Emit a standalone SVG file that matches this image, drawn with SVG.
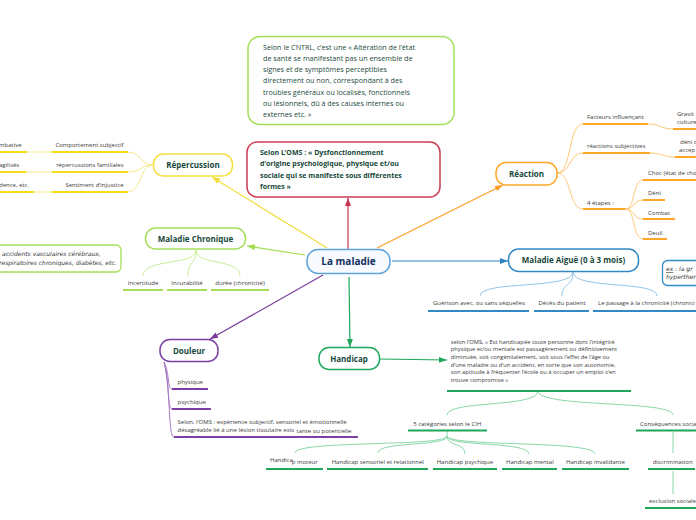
<svg xmlns="http://www.w3.org/2000/svg" width="696" height="520" viewBox="0 0 696 520">
<defs>
<style>
text{font-family:"Open Sans","Noto Sans","DejaVu Sans",sans-serif;}
.node{fill:#ffffff;stroke-width:1.5;}
.lbl{font-size:8px;font-weight:bold;fill:#17483a;text-anchor:middle;}
.t{font-size:6px;fill:#3a3a3a;}
.tc{font-size:6px;fill:#3a3a3a;text-anchor:middle;}
.te{font-size:6px;fill:#3a3a3a;text-anchor:end;}
.ul{fill:none;stroke-width:2;}
.cv{fill:none;stroke-width:1;}
.ln{fill:none;stroke-width:1.2;}
.it{font-family:"DejaVu Sans",sans-serif;font-size:6px;font-style:italic;fill:#333;}
</style>
<marker id="aR" markerUnits="userSpaceOnUse" markerWidth="8" markerHeight="8" refX="8" refY="4" orient="auto"><path d="M0,1 L8,4 L0,7 z" fill="#c8344f"/></marker>
<marker id="aY" markerUnits="userSpaceOnUse" markerWidth="8" markerHeight="8" refX="8" refY="4" orient="auto"><path d="M0,1 L8,4 L0,7 z" fill="#f2dc3a"/></marker>
<marker id="aO" markerUnits="userSpaceOnUse" markerWidth="8" markerHeight="8" refX="8" refY="4" orient="auto"><path d="M0,1 L8,4 L0,7 z" fill="#fb9f22"/></marker>
<marker id="aL" markerUnits="userSpaceOnUse" markerWidth="8" markerHeight="8" refX="8" refY="4" orient="auto"><path d="M0,1 L8,4 L0,7 z" fill="#9fdc4c"/></marker>
<marker id="aB" markerUnits="userSpaceOnUse" markerWidth="8" markerHeight="8" refX="8" refY="4" orient="auto"><path d="M0,1 L8,4 L0,7 z" fill="#2f84c0"/></marker>
<marker id="aP" markerUnits="userSpaceOnUse" markerWidth="8" markerHeight="8" refX="8" refY="4" orient="auto"><path d="M0,1 L8,4 L0,7 z" fill="#7a3c9e"/></marker>
<marker id="aG" markerUnits="userSpaceOnUse" markerWidth="8" markerHeight="8" refX="8" refY="4" orient="auto"><path d="M0,1 L8,4 L0,7 z" fill="#1ea65a"/></marker>
</defs>
<rect width="696" height="520" fill="#ffffff"/>

<g id="connectors">
<path class="ln" d="M348,249 L348,198" stroke="#c8344f" marker-end="url(#aR)"/>
<path class="ln" d="M327,248 L212,177" stroke="#f2dc3a" marker-end="url(#aY)"/>
<path class="ln" d="M377,248 L503,185" stroke="#fb9f22" marker-end="url(#aO)"/>
<path class="ln" d="M305,255 L247,246" stroke="#9fdc4c" marker-end="url(#aL)"/>
<path class="ln" d="M392,261 L508,261" stroke="#2f84c0" marker-end="url(#aB)"/>
<path class="ln" d="M323,275 L210,339" stroke="#7a3c9e" marker-end="url(#aP)"/>
<path class="ln" d="M349,277 L350,347" stroke="#1ea65a" marker-end="url(#aG)"/>
<path class="ln" d="M380,359 L447,360" stroke="#1ea65a" marker-end="url(#aG)"/>

<!-- Repercussion curves -->
<g stroke="#f7e98a" class="cv">
<path d="M153,165 C140,165 141,152 128,152"/>
<path d="M153,165 C140,165 141,172 128,172"/>
<path d="M153,165 C140,165 141,192 128,192"/>
<path d="M52,152 L27,152"/>
<path d="M52,172 L26,172"/>
<path d="M52,192 L34,192"/>
</g>
<!-- Maladie chronique curves -->
<g stroke="#c9ee96" class="cv">
<path d="M196,250 C196,266 143,258 143,276"/>
<path d="M196,250 C196,266 188,260 188,276"/>
<path d="M196,250 C196,266 240,258 240,276"/>
</g>
<!-- Reaction curves -->
<g stroke="#ffc878" class="cv">
<path d="M557,173 C572,173 568,124 583,124"/>
<path d="M557,173 C572,173 568,153 583,153"/>
<path d="M557,173 C572,173 568,209 583,209"/>
<path d="M648,124 C660,124 661,129 673,129"/>
<path d="M650,153 C662,153 663,157 675,157"/>
<path d="M625,209 C636,209 632,180 643,180"/>
<path d="M625,209 C636,209 632,200 643,200"/>
<path d="M625,209 C636,209 632,219 643,219"/>
<path d="M625,209 C636,209 632,239 643,239"/>
</g>
<!-- Maladie aigue curves -->
<g stroke="#93c6e8" class="cv">
<path d="M573,272 C573,290 480,280 480,296"/>
<path d="M573,272 C573,288 562,282 562,296"/>
<path d="M573,272 C573,290 657,280 657,296"/>
</g>
<!-- Douleur curves -->
<g stroke="#a87cc4" class="cv">
<path d="M164,362 C170,374 167,389 172,389"/>
<path d="M164,362 C170,382 167,409 172,409"/>
<path d="M164,362 C171,392 168,437 174,437"/>
</g>
<!-- Handicap curves -->
<g stroke="#8ad8a8" class="cv">
<path d="M538,391 C538,408 447,400 447,415"/>
<path d="M538,391 C538,408 673,400 673,415"/>
<path d="M447,431 L447,436 C447,447 295,440 295,453"/>
<path d="M447,436 C447,447 378,441 378,453"/>
<path d="M447,436 C447,447 465,442 465,454"/>
<path d="M447,436 C447,447 529,441 529,454"/>
<path d="M447,436 C447,447 595,440 595,454"/>
<path d="M673,432 L673,453"/>
<path d="M673,471 L673,494"/>
</g>
</g>

<g id="n-cntrl">
<rect x="248" y="36.5" width="206" height="88" rx="12" fill="#fff" stroke="#a5e05a" stroke-width="1.5"/>
<text style="font-size:7.2px;fill:#1d4b3c">
<tspan x="263" y="49.5">Selon le CNTRL, c’est une « Altération de l’état</tspan>
<tspan x="263" y="60.8">de santé se manifestant pas un ensemble de</tspan>
<tspan x="263" y="72.1">signes et de symptômes perceptibles</tspan>
<tspan x="263" y="83.4">directement ou non, correspondant à des</tspan>
<tspan x="263" y="94.6">troubles généraux ou localisés, fonctionnels</tspan>
<tspan x="263" y="105.9">ou lésionnels, dû à des causes internes ou</tspan>
<tspan x="263" y="117.2">externes etc. »</tspan>
</text>
</g>

<g id="n-oms">
<rect x="247" y="142" width="193" height="55" rx="10" fill="#fff" stroke="#cd3b55" stroke-width="1.5"/>
<text style="font-size:7px;font-weight:bold;fill:#17483a">
<tspan x="260" y="154.8">Selon L’OMS : « Dysfonctionnement</tspan>
<tspan x="260" y="166.2">d’origine psychologique, physique et/ou</tspan>
<tspan x="260" y="177.5">sociale qui se manifeste sous différentes</tspan>
<tspan x="260" y="188.8">formes »</tspan>
</text>
</g>

<g id="n-center">
<rect x="307" y="249.5" width="83" height="24" rx="11" fill="#f7fbff" stroke="#5fa3d9" stroke-width="1.5"/>
<text x="348.5" y="264.8" style="font-size:10px;font-weight:bold;fill:#12305e;text-anchor:middle">La maladie</text>
</g>

<g id="n-repercussion">
<rect class="node" x="153.5" y="154" width="79" height="22" rx="10" stroke="#f5df3c"/>
<text class="lbl" x="193" y="168">Répercussion</text>
</g>
<g id="n-rep-children">
<text class="te" x="123.5" y="147.3">Comportement subjectif</text>
<text class="te" x="123.5" y="167.3">répercussions familiales</text>
<text class="te" x="123.5" y="187.3">Sentiment d’injustice</text>
<text class="t" x="-1" y="147.3">mbative</text>
<text class="t" x="-1" y="167.3">agilisés</text>
<text class="t" x="-1" y="187.3">dence, etc.</text>
<g stroke="#f7dd1c" class="ul">
<path d="M52,152 L128,152"/><path d="M52,172 L128,172"/><path d="M52,192 L128,192"/>
<path d="M0,152 L27,152"/><path d="M0,172 L26,172"/><path d="M0,192 L34,192"/>
</g>
</g>

<g id="n-chronique">
<rect class="node" x="145.5" y="228" width="100" height="21" rx="10" stroke="#a5e05a"/>
<text class="lbl" x="195.5" y="241.5">Maladie Chronique</text>
</g>
<g id="n-chron-children">
<text class="tc" x="143" y="285">Incertitude</text>
<text class="tc" x="187" y="285">Incurabilité</text>
<text class="tc" x="240" y="285">durée (chronicité)</text>
<g stroke="#a5e05a" class="ul">
<path d="M123,290 L163,290"/><path d="M167,290 L207,290"/><path d="M211,290 L269,290"/>
</g>
</g>
<g id="n-chron-ex">
<rect x="-10" y="245" width="131" height="27" rx="5" fill="#fff" stroke="#a5e05a" stroke-width="1.3"/>
<text class="it" x="2" y="256.3">accidents vasculaires cérébraux,</text>
<text class="it" x="-1" y="264.5">respiratoires chroniques, diabètes, etc.</text>
</g>

<g id="n-reaction">
<rect class="node" x="496" y="162.5" width="61" height="22.5" rx="10" stroke="#ffa629"/>
<text class="lbl" x="526.5" y="176.5">Réaction</text>
</g>
<g id="n-reac-children">
<text class="t" x="587" y="118.7">Facteurs influençant</text>
<text class="t" x="587" y="148.2">réactions subjectives</text>
<text class="t" x="587" y="204.7">4 étapes :</text>
<text class="t" x="677" y="115.5">Gravit</text>
<text class="t" x="677" y="124">culture</text>
<text class="t" x="680" y="144.3">déni o</text>
<text class="t" x="679" y="152.3">accep</text>
<text class="t" x="648" y="174.7">Choc (état de cho</text>
<text class="t" x="648" y="194.7">Déni</text>
<text class="t" x="648" y="214.7">Combat</text>
<text class="t" x="648" y="234.7">Deuil</text>
<g stroke="#ffa629" class="ul">
<path d="M583,124 L648,124"/><path d="M583,153 L650,153"/><path d="M583,209 L625,209"/>
<path d="M673,129 L696,129"/><path d="M675,157 L696,157"/>
<path d="M643,180 L696,180"/><path d="M643,200 L665,200"/><path d="M643,219 L675,219"/><path d="M643,239 L667,239"/>
</g>
</g>

<g id="n-aigue">
<rect class="node" x="508.5" y="249" width="130" height="22.5" rx="10" stroke="#3389c4"/>
<text class="lbl" x="573.5" y="263">Maladie Aiguë (0 à 3 mois)</text>
</g>
<g id="n-aigue-children">
<text class="tc" x="479" y="305.3">Guérison avec, ou sans séquelles</text>
<text class="tc" x="562" y="305.3">Décès du patient</text>
<text class="t" x="598" y="305.3">Le passage à la chronicité (chronici</text>
<g stroke="#3389c4" class="ul">
<path d="M428,311 L529,311"/><path d="M534,311 L589,311"/><path d="M593,311 L696,311"/>
</g>
</g>
<g id="n-aigue-ex">
<rect x="662.5" y="260.5" width="50" height="25" rx="5" fill="#fff" stroke="#3389c4" stroke-width="1.3"/>
<text class="it" x="666" y="271.3"><tspan text-decoration="underline">ex</tspan> :  la gr</text>
<text class="it" x="666" y="279">hyperther</text>
</g>

<g id="n-douleur">
<rect class="node" x="160" y="339.5" width="58" height="22" rx="10" stroke="#7c3fa3"/>
<text class="lbl" x="189" y="353.5">Douleur</text>
</g>
<g id="n-douleur-children">
<text class="t" x="177.5" y="383.8">physique</text>
<text class="t" x="177.5" y="403.8">psychique</text>
<text class="t" x="177.5" y="423.8">Selon, l’OMS : expérience subjectif, sensoriel et émotionnelle</text>
<text class="t" x="177.5" y="431.8">désagréable lié à une lésion tissulaire exis</text>
<text class="t" x="296.5" y="433">tante ou potentielle</text>
<g stroke="#7c3fa3" class="ul">
<path d="M172,389 L208,389"/><path d="M172,409 L211,409"/><path d="M174,437 L358,437"/>
</g>
</g>

<g id="n-handicap">
<rect class="node" x="319" y="347.5" width="60.5" height="22" rx="10" stroke="#21a85d"/>
<text class="lbl" x="349" y="361.5">Handicap</text>
</g>
<g id="n-handicap-def">
<text style="font-size:5.8px;fill:#3a3a3a">
<tspan x="450.7" y="343.7">selon l’OMS, « Est handicapée toute personne dont l’intégrité</tspan>
<tspan x="450.7" y="351.3">physique et/ou mentale est passagèrement ou définitivement</tspan>
<tspan x="450.7" y="358.9">diminuée, soit congénitalement, soit sous l’effet de l’âge ou</tspan>
<tspan x="450.7" y="366.5">d’une maladie ou d’un accident, en sorte que son autonomie,</tspan>
<tspan x="450.7" y="374.1">son aptitude à fréquenter l’école ou à occuper un emploi s’en</tspan>
<tspan x="450.7" y="381.7">trouve compromise »</tspan>
</text>
<path class="ul" stroke="#1ea65a" d="M447,391 L631,391"/>
</g>
<g id="n-categories">
<text class="tc" x="447.3" y="425.5">5 catégories selon le CIH</text>
<path class="ul" stroke="#1ea65a" d="M408,430.5 L487,430.5"/>
<text class="t" x="270" y="461.5">Handica</text>
<text class="t" x="291.7" y="464">p moteur</text>
<text class="t" x="331.7" y="464">Handicap sensoriel et relationnel</text>
<text class="t" x="436.7" y="464">Handicap psychique</text>
<text class="t" x="506" y="464">Handicap mental</text>
<text class="t" x="566" y="464">Handicap invalidante</text>
<g stroke="#1ea65a" class="ul">
<path d="M266,469 L323,469"/><path d="M327,469 L428,469"/><path d="M433,469 L497,469"/><path d="M502,469 L557,469"/><path d="M562,469 L629,469"/>
</g>
</g>
<g id="n-consequences">
<text class="t" x="640" y="425.5">Conséquences socia</text>
<text class="t" x="652.7" y="464">discrimination</text>
<text class="t" x="649" y="503">exclusion sociale</text>
<g stroke="#1ea65a" class="ul">
<path d="M636,430.5 L696,430.5"/><path d="M648,469 L695,469"/><path d="M645,508 L696,508"/>
</g>
</g>
</svg>
